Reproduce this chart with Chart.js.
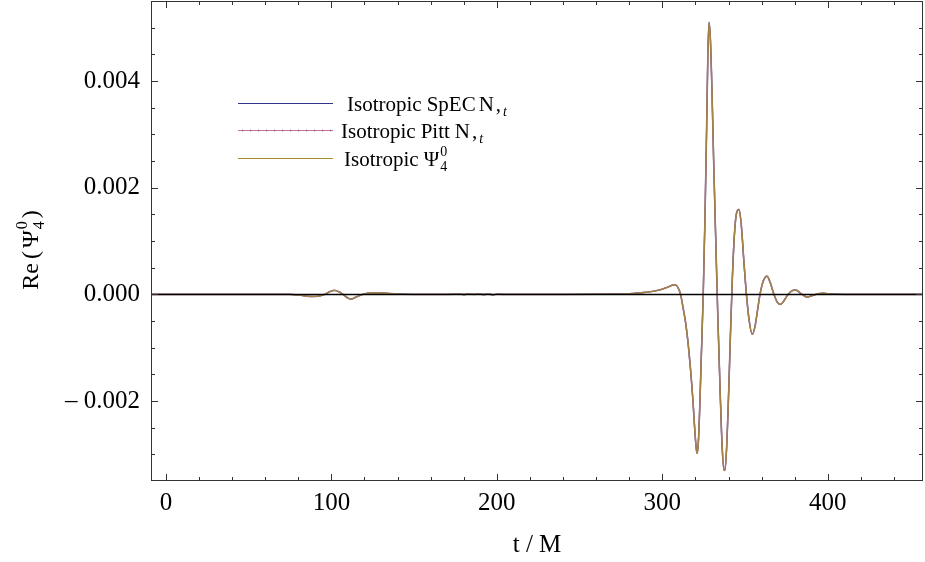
<!DOCTYPE html>
<html><head><meta charset="utf-8">
<script src="https://cdn.jsdelivr.net/npm/chart.js@4/dist/chart.umd.min.js"></script>
<style>html,body{margin:0;padding:0;background:#fff;}#wrap{width:925px;height:562px;position:relative;}</style>
</head><body><div id="wrap"><canvas id="c"></canvas></div>
<script>
// time samples (t/M)
const tValues = [-9,0,20,40,60,75,82,88,93,96,99,102,105,107,110,112,115,119,122,127,133,140,150,170,
 178,180,183,186,189,192,195,198,200,203,220,240,260,270,280,287,293,298,302,305,307,309,311,
 312.5,314,315.5,317,318.5,319.5,320.5,321,321.7,322.5,323.5,324.7,325.8,326.8,327.5,328.2,329,330,331,332.2,
 333.5,335,336.2,337.3,337.8,338.8,340,341.2,342.3,343.5,344.8,346.3,347.7,349.3,350.8,352.5,354.3,356,357.5,359,
 361,363.2,365.2,367.4,369.5,371.4,373.5,376,378.5,380.7,383.5,387.5,391,394,397,402,410,420,440,457.5];
// Re(Psi_4^0) (the three extractions overlap within line width)
const waveValues = [0,0,0,0,0,0,-0.00002,-0.00004,-0.00003,0,0.00005,0.000075,0.00004,0,-0.00007,-0.000088,-0.00005,0,0.00002,0.000025,0.00002,0.000005,0,0,
 0.000004,-0.000004,0.000006,0,0.000008,-0.000003,0.000004,-0.000008,0.000004,0,0,0,0.000002,0.000005,0.00001,0.00003,0.00005,0.00008,0.00012,0.00016,0.00018,0.00015,0,
 -0.00025,-0.00052,-0.0009,-0.0014,-0.002,-0.0025,-0.0029,-0.00298,-0.0028,-0.0022,-0.0012,0,0.0015,0.0032,0.0045,0.0051,0.0048,0.0038,0.0025,0.0011,
 -0.0004,-0.0019,-0.0029,-0.0033,-0.0033,-0.0029,-0.0019,-0.0007,0.0003,0.0011,0.00152,0.00159,0.0013,0.0006,0,-0.0005,-0.00075,-0.0006,-0.0003,0,
 0.00025,0.00034,0.00022,0,-0.00015,-0.00019,-0.00012,0,0.00007,0.00008,0.00002,-0.00005,-0.00002,0.00001,0.00002,0.000005,0,0,0,0];
const specValues = waveValues;
const pittValues = waveValues;
const psi4Values = waveValues;
const xTickLabels = [0,100,200,300,400];
const yTickLabels = [-0.002,0,0.002,0.004];
const seriesNames = ['Isotropic SpEC N ,t','Isotropic Pitt N ,t','Isotropic Ψ40'];
const seriesColors = ['#2e3488','#c0709a','#a88c30'];

const SERIF = '"Liberation Serif","DejaVu Serif",serif';
const toXY = vals => tValues.map((t,i)=>({x:t,y:vals[i]}));

function richText(ctx, x, y, parts){
  let cx = x;
  for (const p of parts){
    ctx.font = p.f;
    p.startX = cx;
    ctx.fillText(p.t, cx, y + (p.dy||0));
    cx += ctx.measureText(p.t).width + (p.gap||0);
  }
  return cx - x;
}
function measureRich(ctx, parts){
  let w=0;
  for (const p of parts){ ctx.font=p.f; w += ctx.measureText(p.t).width + (p.gap||0); }
  return w;
}

const decor = {
  id:'decor',
  afterDatasetsDraw(chart){
    const {ctx, chartArea:a, scales:{x,y}} = chart;
    ctx.save();
    const y0 = Math.round(y.getPixelForValue(0)) + 0.5;
    ctx.strokeStyle = '#000'; ctx.lineWidth = 1.6;
    ctx.beginPath(); ctx.moveTo(a.left, y0); ctx.lineTo(a.right, y0); ctx.stroke();
    ctx.strokeStyle = '#333'; ctx.lineWidth = 1;
    ctx.strokeRect(a.left + 0.5, a.top + 0.5, a.right - a.left - 1, a.bottom - a.top - 1);
    ctx.beginPath();
    for (let v = 0; v <= x.max; v += 20){
      const px = Math.round(x.getPixelForValue(v)) + 0.5;
      const L = (v % 100 === 0) ? 7 : 4;
      ctx.moveTo(px, a.bottom); ctx.lineTo(px, a.bottom - L);
      ctx.moveTo(px, a.top); ctx.lineTo(px, a.top + L);
    }
    for (let k = -7; k <= 11; k++){
      const v = k * 0.0005;
      const py = Math.round(y.getPixelForValue(v)) + 0.5;
      if (py < a.top || py > a.bottom) continue;
      const L = (k % 4 === 0) ? 7 : 4;
      ctx.moveTo(a.left, py); ctx.lineTo(a.left + L, py);
      ctx.moveTo(a.right, py); ctx.lineTo(a.right - L, py);
    }
    ctx.stroke();
    ctx.restore();
  },
  afterDraw(chart){
    const {ctx} = chart;
    ctx.save();
    ctx.fillStyle = '#000';
    ctx.textBaseline = 'alphabetic';
    const F = '24px ' + SERIF, FS = '16px ' + SERIF;
    const parts = [{t:'Re',f:F,gap:4},{t:'(',f:F,gap:3},{t:'Ψ',f:F,gap:1},{t:'4',f:FS,dy:6,gap:3},{t:')',f:F}];
    const w = measureRich(ctx, parts);
    ctx.translate(38, 250); ctx.rotate(-Math.PI/2);
    richText(ctx, -w/2, 0, parts);
    ctx.font = FS; ctx.fillText('0', parts[3].startX, -11);
    ctx.setTransform(1,0,0,1,0,0);
    const LF = '21px ' + SERIF;
    const rows = [
      {y:103.5, tx:347, col:seriesColors[0], dots:false, parts:[{t:'Isotropic',f:LF,gap:5},{t:'SpEC',f:LF,gap:3},{t:'N',f:LF,gap:2},{t:',',f:LF,gap:2},{t:'t',f:'italic 14px '+SERIF,dy:5}]},
      {y:130.5, tx:341, col:seriesColors[1], dots:true, parts:[{t:'Isotropic',f:LF,gap:5},{t:'Pitt',f:LF,gap:5},{t:'N',f:LF,gap:2},{t:',',f:LF,gap:2},{t:'t',f:'italic 14px '+SERIF,dy:5}]},
      {y:158.5, tx:344, col:seriesColors[2], dots:false, parts:[{t:'Isotropic',f:LF,gap:5},{t:'Ψ',f:LF,gap:1},{t:'4',f:'14px '+SERIF,dy:5}]}
    ];
    rows.forEach((r,i)=>{
      ctx.strokeStyle = r.col; ctx.lineWidth = 1.2;
      ctx.beginPath(); ctx.moveTo(238, r.y); ctx.lineTo(333, r.y); ctx.stroke();
      if (r.dots){
        ctx.strokeStyle = 'rgba(138,74,112,0.6)'; ctx.lineWidth = 1;
        ctx.beginPath();
        for (let px = 242; px < 333; px += 8){ ctx.moveTo(px+0.5, r.y-1); ctx.lineTo(px+0.5, r.y+1); }
        ctx.stroke();
      }
      ctx.fillStyle = '#000';
      richText(ctx, r.tx, r.y + 7, r.parts);
      if (i === 2){ ctx.font = '14px ' + SERIF; ctx.fillText('0', r.parts[2].startX, r.y - 3); }
    });
    ctx.restore();
  }
};

new Chart(document.getElementById('c'), {
  type:'line',
  data:{datasets:[
    {label:seriesNames[2], data:toXY(psi4Values), borderColor:'rgba(168,140,48,0.8)', borderWidth:1.3, order:0},
    {label:seriesNames[1], data:toXY(pittValues), borderColor:'rgba(176,110,150,0.8)', borderWidth:1.6, order:1},
    {label:seriesNames[0], data:toXY(specValues), borderColor:seriesColors[0], borderWidth:1.4, order:2}
  ]},
  options:{
    responsive:true, maintainAspectRatio:false, animation:false,
    layout:{padding:{top:1,right:2,left:0,bottom:0}},
    elements:{point:{radius:0}, line:{cubicInterpolationMode:'monotone', fill:false}},
    plugins:{legend:{display:false}, tooltip:{enabled:false}},
    scales:{
      x:{type:'linear', min:-9, max:457.5,
        afterFit(s){ s.height = 81; s.paddingLeft = 0; s.paddingRight = 0; },
        afterBuildTicks(s){ s.ticks = xTickLabels.map(v=>({value:v})); },
        grid:{display:false, drawTicks:false}, border:{display:false},
        ticks:{color:'#000', padding:7, maxRotation:0, autoSkip:false, font:{family:SERIF, size:25}, callback:v=>String(v)},
        title:{display:true, text:'t / M', color:'#000', font:{family:SERIF, size:25}, padding:{top:0,bottom:2}}
      },
      y:{type:'linear', min:-0.0035, max:0.0055,
        afterFit(s){ s.width = 151; s.paddingTop = 0; s.paddingBottom = 0; },
        afterBuildTicks(s){ s.ticks = yTickLabels.map(v=>({value:v})); },
        grid:{display:false, drawTicks:false}, border:{display:false},
        ticks:{color:'#000', padding:11, autoSkip:false, font:{family:SERIF, size:25},
          callback:v=> v < 0 ? '– ' + Math.abs(v).toFixed(3) : Math.abs(v).toFixed(3)}
      }
    }
  },
  plugins:[decor]
});
</script></body></html>
